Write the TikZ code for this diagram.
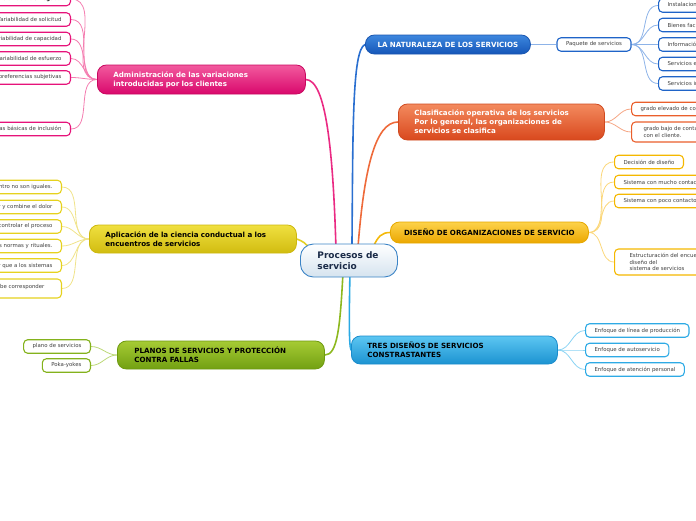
\documentclass[tikz,border=0pt]{standalone}
\usepackage{fontspec}
\setmainfont{DejaVu Sans}
\pgfdeclarelayer{bg}
\pgfsetlayers{bg,main}
\definecolor{pinkA}{HTML}{F25A9E}\definecolor{pinkB}{HTML}{D9086C}\definecolor{pinkD}{HTML}{C8075F}\definecolor{pinkS}{HTML}{F47DB0}\definecolor{pinkE}{HTML}{E6137A}\definecolor{pinkL}{HTML}{EA2A83}
\definecolor{blueA}{HTML}{3D87DE}\definecolor{blueB}{HTML}{1556B8}\definecolor{blueD}{HTML}{1A56B0}\definecolor{blueS}{HTML}{8DB3E8}\definecolor{blueE}{HTML}{1F64C8}\definecolor{blueL}{HTML}{2A6FD0}
\definecolor{orA}{HTML}{F38A5E}\definecolor{orB}{HTML}{D9481D}\definecolor{orD}{HTML}{D04A20}\definecolor{orS}{HTML}{F5A684}\definecolor{orE}{HTML}{EA5F2C}\definecolor{orL}{HTML}{EE6A3A}
\definecolor{goA}{HTML}{FDD24A}\definecolor{goB}{HTML}{EBA700}\definecolor{goD}{HTML}{E6A800}\definecolor{goS}{HTML}{FBD77A}\definecolor{goE}{HTML}{F5B800}\definecolor{goL}{HTML}{F4B90A}
\definecolor{lbA}{HTML}{5CC6F2}\definecolor{lbB}{HTML}{1C93D1}\definecolor{lbD}{HTML}{1A8CCC}\definecolor{lbS}{HTML}{8AD3F3}\definecolor{lbE}{HTML}{2EAAE5}\definecolor{lbL}{HTML}{2AA9E4}
\definecolor{grA}{HTML}{A6CB34}\definecolor{grB}{HTML}{72A012}\definecolor{grD}{HTML}{6E9A10}\definecolor{grS}{HTML}{BCD877}\definecolor{grE}{HTML}{84B21C}\definecolor{grL}{HTML}{8DB81F}
\definecolor{yeA}{HTML}{F0E040}\definecolor{yeB}{HTML}{D1BC10}\definecolor{yeD}{HTML}{CDB80E}\definecolor{yeS}{HTML}{F0E38A}\definecolor{yeE}{HTML}{E6D21E}\definecolor{yeL}{HTML}{E3D024}
\definecolor{cenB}{HTML}{D5E3EF}\definecolor{cenD}{HTML}{3C84C6}\definecolor{cenT}{HTML}{1B2B48}
\definecolor{subT}{HTML}{404040}
\begin{document}
\begin{tikzpicture}[x=1pt,y=-1pt,
  mainbox/.style={rounded corners=9pt, line width=0.8pt, inner ysep=2pt,
    font=\fontsize{7.1}{9}\selectfont\bfseries, align=left},
  subbox/.style={draw=#1, fill=white, rounded corners=4pt, line width=1.1pt,
    font=\fontsize{5.4}{6.6}\selectfont, text=subT, inner xsep=9pt, inner ysep=2pt,
    minimum height=13.5pt, align=left},
  mainline/.style={draw=#1, line width=1.6pt, line cap=round},
  subline/.style={draw=#1, line width=0.8pt}
]
\useasboundingbox (0,0) rectangle (696,520);

% center
\node[rounded corners=13pt, draw=cenD, line width=0.9pt, top color=white, bottom color=cenB,
  minimum height=33pt, text width=63pt, inner xsep=17pt, align=left,
  font=\fontsize{9}{11}\selectfont\bfseries, text=cenT, anchor=west] (c) at (300,260.5) {Procesos de\\servicio};

% main branches
\node[mainbox, draw=pinkD, top color=pinkA, bottom color=pinkB, text=white,
  minimum height=29pt, text width=176pt, inner xsep=16pt, anchor=west] (pink) at (97,79.5)
  {Administración de las variaciones\\introducidas por los clientes};
\node[mainbox, draw=blueD, top color=blueA, bottom color=blueB, text=white, align=center,
  minimum height=19pt, text width=145pt, inner xsep=10pt, anchor=west] (blue) at (365,44.5)
  {LA NATURALEZA DE LOS SERVICIOS};
\node[mainbox, draw=orD, top color=orA, bottom color=orB, text=white,
  minimum height=36pt, text width=174pt, inner xsep=16pt, anchor=west] (orange) at (398,122)
  {Clasificación operativa de los servicios\\Por lo general, las organizaciones de\\servicios se clasifica};
\node[mainbox, draw=goD, top color=goA, bottom color=goB, text=black, align=center,
  minimum height=21pt, text width=180pt, inner xsep=9pt, anchor=west] (gold) at (390,232.5)
  {DISEÑO DE ORGANIZACIONES DE SERVICIO};
\node[mainbox, draw=lbD, top color=lbA, bottom color=lbB, text=black,
  minimum height=28pt, text width=174pt, inner xsep=16pt, anchor=west] (ltblue) at (351,350)
  {TRES DISEÑOS DE SERVICIOS\\CONSTRASTANTES};
\node[mainbox, draw=grD, top color=grA, bottom color=grB, text=black,
  minimum height=28pt, text width=173pt, inner xsep=17pt, anchor=west] (green) at (117,355)
  {PLANOS DE SERVICIOS Y PROTECCIÓN\\CONTRA FALLAS};
\node[mainbox, draw=yeD, top color=yeA, bottom color=yeB, text=black,
  minimum height=28pt, text width=175pt, inner xsep=16pt, anchor=west] (yellow) at (89,239)
  {Aplicación de la ciencia conductual a los\\encuentros de servicios};

% pink subs
\node[subbox=pinkE, anchor=east, text=black] (p1) at (71,-1) {\bfseries Variabilidad de llegada};
\node[subbox=pinkE, anchor=east] (p2) at (71,19.5) {Variabilidad de solicitud};
\node[subbox=pinkE, anchor=east] (p3) at (71,39) {Variabilidad de capacidad};
\node[subbox=pinkE, anchor=east] (p4) at (71,58.5) {Variabilidad de esfuerzo};
\node[subbox=pinkE, anchor=east] (p5) at (71,77.5) {Variabilidad de preferencias subjetivas};
\node[subbox=pinkE, anchor=east] (p6) at (71,129) {Estrategias básicas de inclusión};

% yellow subs
\node[subbox=yeE, anchor=east] (y1) at (62,187) {Los extremos del encuentro no son iguales.};
\node[subbox=yeE, anchor=east] (y2) at (62,207) {Segmente el placer y combine el dolor};
\node[subbox=yeE, anchor=east] (y3) at (62,226.5) {Permita al cliente controlar el proceso};
\node[subbox=yeE, anchor=east] (y4) at (62,246) {Ponga atención a las normas y rituales.};
\node[subbox=yeE, anchor=east] (y5) at (62,265.5) {La gente es más fácil de culpar que a los sistemas};
\node[subbox=yeE, anchor=east, minimum height=19pt, text depth=5pt] (y6) at (62,288.5) {La recuperación del servicio debe corresponder\hspace{8pt}};

% green subs
\node[subbox=grE, anchor=east] (g1) at (91,346.5) {plano de servicios};
\node[subbox=grE, anchor=east] (g2) at (91,365.5) {Poka-yokes};

% blue subs
\node[subbox=blueE, anchor=center, minimum width=74pt] (paq) at (594,44.5) {Paquete de servicios};
\node[subbox=blueE, anchor=west] (b1) at (658,5.5) {Instalaciones de apoyo};
\node[subbox=blueE, anchor=west] (b2) at (658,25) {Bienes facilitadores};
\node[subbox=blueE, anchor=west] (b3) at (658,44.5) {Información};
\node[subbox=blueE, anchor=west] (b4) at (658,64) {Servicios explícitos};
\node[subbox=blueE, anchor=west] (b5) at (658,83.5) {Servicios implícitos};

% orange subs
\node[subbox=orE, anchor=west] (o1) at (631,109) {grado elevado de contacto con el cliente};
\node[subbox=orE, anchor=west, minimum height=20pt, inner xsep=12pt] (o2) at (631,132) {grado bajo de contacto\\con el cliente.};

% gold subs
\node[subbox=goE, anchor=west] (d1) at (614,162) {Decisión de diseño};
\node[subbox=goE, anchor=west] (d2) at (614,182) {Sistema con mucho contacto};
\node[subbox=goE, anchor=west] (d3) at (614,201) {Sistema con poco contacto};
\node[subbox=goE, anchor=west, minimum height=26pt, inner xsep=15pt] (d4) at (614,262) {Estructuración del encuentro\\diseño del\\sistema de servicios};

% light blue subs
\node[subbox=lbE, anchor=west] (t1) at (585,330.5) {Enfoque de línea de producción};
\node[subbox=lbE, anchor=west] (t2) at (585,350) {Enfoque de autoservicio};
\node[subbox=lbE, anchor=west] (t3) at (585,369.5) {Enfoque de atención personal};

\begin{pgfonlayer}{bg}
% main connectors
\draw[mainline=pinkL] ([xshift=-13pt,yshift=-4pt]c.north) .. controls (333,150) and (326,80) .. (pink.east);
\draw[mainline=blueL] ([xshift=3pt,yshift=-4pt]c.north) .. controls (353,130) and (352,50) .. (blue.west);
\draw[mainline=orL] ([xshift=9pt,yshift=-4pt]c.north) .. controls (364,170) and (375,122) .. (orange.west);
\draw[mainline=goL] ([xshift=24pt,yshift=-4pt]c.north) .. controls (378,236) and (382,232.5) .. (gold.west);
\draw[mainline=yeL] ([xshift=-38pt,yshift=-6pt]c.north) .. controls (304,242) .. (yellow.east);
\draw[mainline=grL] ([xshift=-6pt,yshift=4pt]c.south) .. controls (340,330) and (337,355) .. (green.east);
\draw[mainline=lbL] ([xshift=1pt,yshift=4pt]c.south) .. controls (349,320) and (349,345) .. (ltblue.west);
% sub connectors
\foreach \n in {p1,p2,p3,p4,p5,p6} \draw[subline=pinkS] (pink.west) to[out=180,in=0] (\n.east);
\foreach \n in {y1,y2,y3,y4,y5,y6} \draw[subline=yeS] (yellow.west) to[out=180,in=0] (\n.east);
\foreach \n in {g1,g2} \draw[subline=grS] (green.west) to[out=180,in=0] (\n.east);
\draw[subline=blueS, line width=1.4pt] (blue.east) -- (paq.west);
\foreach \n in {b1,b2,b3,b4,b5} \draw[subline=blueS] (paq.east) to[out=0,in=180] (\n.west);
\foreach \n in {o1,o2} \draw[subline=orS] (orange.east) to[out=0,in=180] (\n.west);
\foreach \n in {d1,d2,d3,d4} \draw[subline=goS] (gold.east) to[out=0,in=180] (\n.west);
\foreach \n in {t1,t2,t3} \draw[subline=lbS] (ltblue.east) to[out=0,in=180] (\n.west);
\end{pgfonlayer}
\end{tikzpicture}
\end{document}
